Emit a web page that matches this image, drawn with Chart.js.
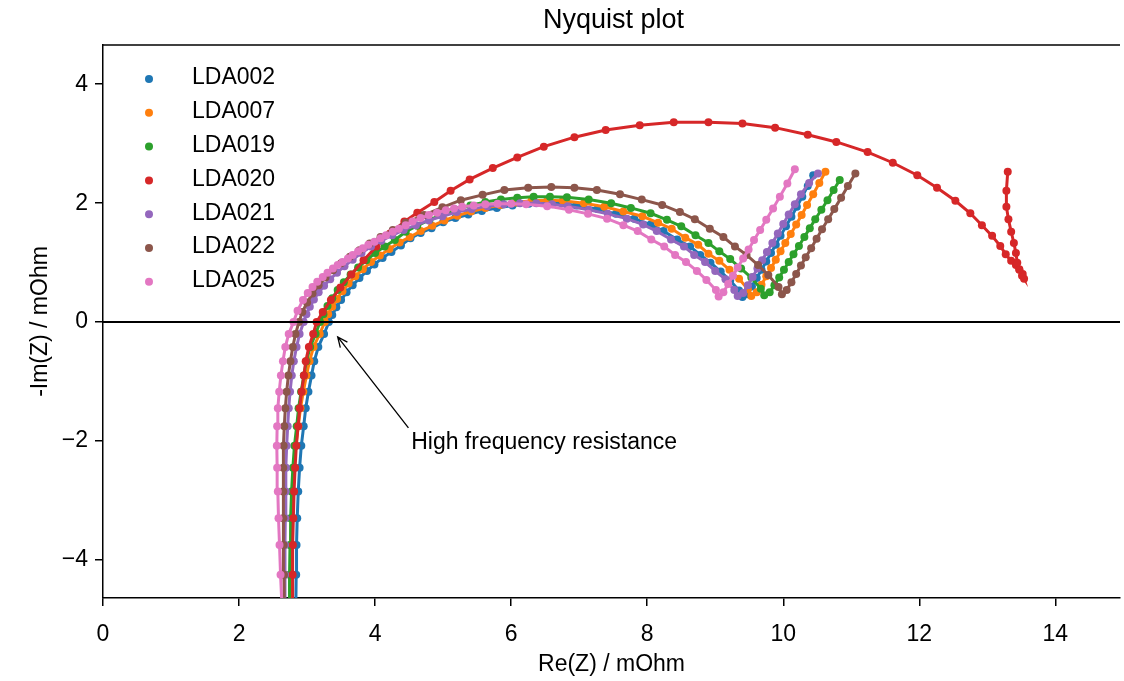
<!DOCTYPE html>
<html>
<head>
<meta charset="utf-8">
<script src="https://cdn.jsdelivr.net/npm/chart.js@4.4.1/dist/chart.umd.min.js"></script>
<style>
  body { margin: 0; background: #fff; }
</style>
</head>
<body>
<canvas id="nyquist" width="1124" height="681"></canvas>
<script>
// series, Re(Z) and -Im(Z) in mOhm
const seriesNames = ['LDA002', 'LDA007', 'LDA019', 'LDA020', 'LDA021', 'LDA022', 'LDA025'];
const seriesColors = ['#1f77b4', '#ff7f0e', '#2ca02c', '#d62728', '#9467bd', '#8c564b', '#e377c2'];
const xTicks = [0, 2, 4, 6, 8, 10, 12, 14];
const yTicks = [-4, -2, 0, 2, 4];

const re_LDA002 = [2.83, 2.835, 2.84, 2.845, 2.855, 2.87, 2.89, 2.915, 2.95, 2.98, 3.02, 3.065, 3.105, 3.165, 3.25, 3.32,
  3.37, 3.43, 3.5, 3.58, 3.67, 3.77, 3.88, 3.99, 4.11, 4.24, 4.38, 4.52, 4.67, 4.83, 5.0, 5.18, 5.37, 5.57, 5.79, 6.02, 6.26, 6.5,
  6.74, 6.96, 7.27, 7.54, 7.81, 8.05, 8.24, 8.44, 8.63, 8.78, 8.93, 9.08, 9.22, 9.35, 9.4,
  9.47, 9.54, 9.61, 9.68, 9.75, 9.82, 9.89, 9.96, 10.04, 10.12, 10.2, 10.28, 10.36, 10.44];
const im_LDA002 = [-5.3, -4.75, -4.25, -3.75, -3.3, -2.85, -2.45, -2.08, -1.75, -1.45, -1.17, -0.9, -0.66, -0.42, -0.2, 0,
  0.12, 0.25, 0.37, 0.5, 0.62, 0.74, 0.86, 0.97, 1.08, 1.18, 1.29, 1.41, 1.5, 1.58, 1.68, 1.75, 1.81, 1.87, 1.92, 1.96, 1.99, 2.01,
  2.0, 1.96, 1.9, 1.82, 1.74, 1.64, 1.53, 1.39, 1.27, 1.13, 1.0, 0.85, 0.7, 0.53, 0.42,
  0.47, 0.6, 0.74, 0.88, 1.02, 1.16, 1.3, 1.45, 1.61, 1.77, 1.94, 2.11, 2.29, 2.47];

const re_LDA007 = [2.745, 2.75, 2.755, 2.761, 2.771, 2.787, 2.808, 2.834, 2.871, 2.903, 2.945, 2.99, 3.035, 3.095, 3.185, 3.26,
  3.31, 3.37, 3.44, 3.52, 3.61, 3.71, 3.82, 3.94, 4.07, 4.21, 4.36, 4.51, 4.67, 4.84, 5.02, 5.21, 5.41, 5.62, 5.84, 6.07, 6.3, 6.54,
  6.76, 7.07, 7.37, 7.65, 7.93, 8.16, 8.36, 8.56, 8.75, 8.9, 9.06, 9.21, 9.35, 9.48, 9.53,
  9.61, 9.68, 9.75, 9.82, 9.89, 9.96, 10.03, 10.11, 10.19, 10.27, 10.35, 10.44, 10.53, 10.62];
const im_LDA007 = [-5.3, -4.75, -4.25, -3.75, -3.3, -2.85, -2.45, -2.08, -1.75, -1.45, -1.17, -0.9, -0.66, -0.42, -0.2, 0,
  0.13, 0.26, 0.39, 0.52, 0.65, 0.77, 0.89, 1.01, 1.12, 1.23, 1.34, 1.43, 1.53, 1.62, 1.71, 1.79, 1.86, 1.92, 1.97, 2.01, 2.04, 2.05,
  2.04, 2.0, 1.94, 1.86, 1.78, 1.67, 1.57, 1.42, 1.3, 1.15, 1.03, 0.88, 0.73, 0.55, 0.44,
  0.5, 0.63, 0.77, 0.91, 1.05, 1.19, 1.33, 1.48, 1.64, 1.8, 1.97, 2.15, 2.34, 2.53];

const re_LDA019 = [2.735, 2.74, 2.744, 2.749, 2.758, 2.772, 2.791, 2.814, 2.847, 2.875, 2.912, 2.953, 2.99, 3.045, 3.125, 3.19,
  3.24, 3.3, 3.37, 3.45, 3.54, 3.64, 3.75, 3.87, 4.0, 4.14, 4.29, 4.45, 4.62, 4.8, 4.99, 5.19, 5.4, 5.62, 5.85, 6.09, 6.33, 6.57,
  6.82, 7.14, 7.47, 7.76, 8.05, 8.29, 8.5, 8.71, 8.9, 9.06, 9.22, 9.38, 9.53, 9.67, 9.72,
  9.8, 9.87, 9.94, 10.01, 10.08, 10.15, 10.23, 10.31, 10.39, 10.47, 10.56, 10.65, 10.74, 10.83];
const im_LDA019 = [-5.3, -4.75, -4.25, -3.75, -3.3, -2.85, -2.45, -2.08, -1.75, -1.45, -1.17, -0.9, -0.66, -0.42, -0.2, 0,
  0.13, 0.27, 0.4, 0.54, 0.67, 0.8, 0.92, 1.04, 1.16, 1.27, 1.38, 1.52, 1.62, 1.72, 1.81, 1.89, 1.96, 2.02, 2.06, 2.09, 2.11, 2.11,
  2.1, 2.06, 2.0, 1.92, 1.83, 1.72, 1.61, 1.46, 1.33, 1.19, 1.06, 0.9, 0.75, 0.56, 0.45,
  0.5, 0.62, 0.75, 0.88, 1.01, 1.14, 1.28, 1.43, 1.58, 1.73, 1.89, 2.05, 2.22, 2.39];

const re_LDA020 = [2.78, 2.784, 2.787, 2.791, 2.798, 2.809, 2.824, 2.842, 2.868, 2.89, 2.92, 2.953, 2.98, 3.026, 3.09, 3.14,
  3.23, 3.35, 3.49, 3.65, 3.83, 4.02, 4.22, 4.43, 4.62, 4.87, 5.11, 5.39, 5.73, 6.09, 6.48, 6.93, 7.39, 7.89, 8.39, 8.9,
  9.4, 9.88, 10.36, 10.78, 11.24, 11.61, 11.97, 12.26, 12.53, 12.75, 12.92, 13.07, 13.19, 13.27, 13.35, 13.42, 13.47, 13.52, 13.54,
  13.51, 13.47, 13.44, 13.42, 13.39, 13.35, 13.31, 13.28, 13.28, 13.3];
const im_LDA020 = [-5.3, -4.75, -4.25, -3.75, -3.3, -2.85, -2.45, -2.08, -1.75, -1.45, -1.17, -0.9, -0.66, -0.42, -0.2, 0,
  0.17, 0.37, 0.58, 0.8, 1.04, 1.27, 1.49, 1.69, 1.84, 2.02, 2.21, 2.4, 2.59, 2.77, 2.95, 3.11, 3.23, 3.31, 3.36, 3.36,
  3.34, 3.27, 3.15, 3.03, 2.86, 2.68, 2.47, 2.26, 2.04, 1.83, 1.63, 1.45, 1.28, 1.14, 1.03, 0.96, 0.89, 0.81, 0.73,
  0.78, 0.88, 1.0, 1.16, 1.33, 1.52, 1.73, 1.94, 2.21, 2.53];

const re_LDA021 = [2.675, 2.675, 2.675, 2.675, 2.68, 2.685, 2.69, 2.7, 2.715, 2.73, 2.75, 2.775, 2.805, 2.845, 2.89, 2.95,
  2.99, 3.04, 3.1, 3.17, 3.25, 3.34, 3.44, 3.55, 3.67, 3.8, 3.94, 4.09, 4.25, 4.42, 4.6, 4.79, 4.99, 5.2, 5.42, 5.65, 5.89, 6.13, 6.37,
  6.6, 6.83, 7.14, 7.42, 7.7, 7.94, 8.14, 8.35, 8.54, 8.69, 8.85, 9.0, 9.15, 9.28, 9.33,
  9.41, 9.48, 9.55, 9.62, 9.69, 9.76, 9.84, 9.92, 10.0, 10.08, 10.17, 10.26, 10.38, 10.51];
const im_LDA021 = [-5.3, -4.75, -4.25, -3.75, -3.3, -2.85, -2.45, -2.08, -1.75, -1.45, -1.17, -0.9, -0.66, -0.42, -0.2, 0,
  0.13, 0.26, 0.38, 0.5, 0.61, 0.72, 0.83, 0.94, 1.05, 1.16, 1.27, 1.37, 1.46, 1.55, 1.63, 1.71, 1.78, 1.85, 1.9, 1.95, 1.98, 2.0, 2.0,
  1.98, 1.95, 1.89, 1.82, 1.74, 1.64, 1.53, 1.39, 1.27, 1.13, 1.01, 0.86, 0.72, 0.54, 0.44,
  0.49, 0.62, 0.76, 0.9, 1.04, 1.18, 1.33, 1.49, 1.65, 1.81, 1.98, 2.15, 2.34, 2.5];

const re_LDA022 = [2.67, 2.665, 2.66, 2.655, 2.65, 2.65, 2.65, 2.655, 2.665, 2.68, 2.7, 2.725, 2.755, 2.79, 2.83, 2.88,
  2.93, 3.0, 3.08, 3.17, 3.27, 3.38, 3.5, 3.63, 3.77, 3.92, 4.08, 4.26, 4.45, 4.72, 4.99, 5.26, 5.58, 5.9, 6.25, 6.59,
  6.93, 7.26, 7.6, 7.92, 8.22, 8.48, 8.7, 8.92, 9.12, 9.29, 9.46, 9.63, 9.78, 9.93, 9.98,
  10.05, 10.12, 10.19, 10.26, 10.33, 10.41, 10.49, 10.57, 10.66, 10.75, 10.85, 10.95, 11.06];
const im_LDA022 = [-5.3, -4.75, -4.25, -3.75, -3.3, -2.85, -2.45, -2.08, -1.75, -1.45, -1.17, -0.9, -0.66, -0.42, -0.2, 0,
  0.17, 0.33, 0.48, 0.62, 0.75, 0.87, 0.99, 1.1, 1.21, 1.32, 1.43, 1.55, 1.67, 1.8, 1.93, 2.05, 2.14, 2.22, 2.26, 2.27,
  2.26, 2.22, 2.15, 2.06, 1.97, 1.85, 1.73, 1.57, 1.43, 1.27, 1.13, 0.96, 0.79, 0.59, 0.47,
  0.54, 0.67, 0.81, 0.95, 1.09, 1.24, 1.4, 1.56, 1.73, 1.9, 2.09, 2.29, 2.5];

const re_LDA025 = [2.64, 2.63, 2.61, 2.595, 2.58, 2.57, 2.56, 2.555, 2.56, 2.57, 2.59, 2.615, 2.645, 2.68, 2.73, 2.8,
  2.86, 2.94, 3.01, 3.08, 3.15, 3.23, 3.3, 3.38, 3.45, 3.52, 3.6, 3.67, 3.75, 3.82, 3.9, 3.99, 4.08, 4.16, 4.26, 4.35,
  4.45, 4.55, 4.67, 4.79, 4.91, 5.04, 5.16, 5.28, 5.45, 5.62, 5.8, 6.0, 6.22,
  6.53, 6.85, 7.13, 7.41, 7.65, 7.86, 8.06, 8.25, 8.41, 8.57, 8.73, 8.87, 9.01, 9.05,
  9.12, 9.19, 9.26, 9.33, 9.41, 9.49, 9.57, 9.66, 9.75, 9.85, 9.95, 10.06, 10.17];
const im_LDA025 = [-5.3, -4.75, -4.25, -3.75, -3.3, -2.85, -2.45, -2.08, -1.75, -1.45, -1.17, -0.9, -0.66, -0.42, -0.2, 0,
  0.19, 0.37, 0.49, 0.59, 0.68, 0.76, 0.83, 0.9, 0.96, 1.01, 1.07, 1.13, 1.19, 1.24, 1.3, 1.35, 1.41, 1.46, 1.52, 1.57,
  1.63, 1.69, 1.75, 1.8, 1.84, 1.88, 1.91, 1.94, 1.96, 1.98, 1.99, 1.99, 1.98,
  1.95, 1.89, 1.82, 1.74, 1.63, 1.53, 1.39, 1.27, 1.13, 1.01, 0.86, 0.71, 0.54, 0.43,
  0.5, 0.64, 0.78, 0.92, 1.07, 1.22, 1.38, 1.55, 1.72, 1.91, 2.11, 2.33, 2.57];

const reSeries = [re_LDA002, re_LDA007, re_LDA019, re_LDA020, re_LDA021, re_LDA022, re_LDA025];
const imSeries = [im_LDA002, im_LDA007, im_LDA019, im_LDA020, im_LDA021, im_LDA022, im_LDA025];

// annotation (data coordinates)
const chartTitle = 'Nyquist plot';
const hfrLabel = 'High frequency resistance';
const hfrLabelAt = [4.53, -2.02];
const hfrArrowTail = [4.49, -1.78];
const hfrArrowTip = [3.45, -0.25];

const FONT = "'Liberation Sans', Arial, sans-serif";
Chart.defaults.font.family = FONT;
Chart.defaults.font.size = 23;
Chart.defaults.color = '#000';

const datasets = seriesNames.map((name, i) => ({
    label: name,
    data: reSeries[i].map((x, k) => ({ x: x, y: imSeries[i][k] })),
    borderColor: seriesColors[i],
    backgroundColor: seriesColors[i],
    pointBackgroundColor: seriesColors[i],
    pointBorderWidth: 0,
    pointRadius: 4,
    pointHoverRadius: 4,
    borderWidth: 3,
    tension: 0,
    fill: false,
    clip: 0,
    order: seriesNames.length - i // later series on top, as in the original
}));

// title, zero line, top frame, legend and the arrow note
const extras = {
    id: 'extras',
    afterDatasetsDraw(chart) {
        const ctx = chart.ctx;
        const area = chart.chartArea;
        const xs = chart.scales.x;
        const ys = chart.scales.y;
        ctx.save();
        ctx.strokeStyle = '#000';
        // horizontal line at -Im(Z) = 0
        ctx.lineWidth = 2;
        const y0 = ys.getPixelForValue(0);
        ctx.beginPath();
        ctx.moveTo(area.left, y0);
        ctx.lineTo(area.right, y0);
        ctx.stroke();
        // top spine
        ctx.lineWidth = 1.5;
        ctx.beginPath();
        ctx.moveTo(area.left, area.top);
        ctx.lineTo(area.right, area.top);
        ctx.stroke();

        // title centred over the axes
        ctx.fillStyle = '#000';
        ctx.font = '27px ' + FONT;
        ctx.textAlign = 'center';
        ctx.textBaseline = 'middle';
        ctx.fillText(chartTitle, (area.left + area.right) / 2 + 2, area.top - 24);

        // arrow + label
        const tx = xs.getPixelForValue(hfrArrowTail[0]), ty = ys.getPixelForValue(hfrArrowTail[1]);
        const hx = xs.getPixelForValue(hfrArrowTip[0]), hy = ys.getPixelForValue(hfrArrowTip[1]);
        ctx.lineWidth = 1.3;
        ctx.beginPath();
        ctx.moveTo(tx, ty);
        ctx.lineTo(hx, hy);
        const ang = Math.atan2(hy - ty, hx - tx);
        const len = 11, spread = 0.42;
        ctx.moveTo(hx - len * Math.cos(ang - spread), hy - len * Math.sin(ang - spread));
        ctx.lineTo(hx, hy);
        ctx.lineTo(hx - len * Math.cos(ang + spread), hy - len * Math.sin(ang + spread));
        ctx.stroke();
        ctx.font = '23px ' + FONT;
        ctx.textAlign = 'left';
        ctx.fillText(hfrLabel, xs.getPixelForValue(hfrLabelAt[0]), ys.getPixelForValue(hfrLabelAt[1]));

        // legend in the upper left corner, no frame
        chart.data.datasets.forEach((ds, i) => {
            const ly = area.top + 33 + i * 33.8;
            ctx.fillStyle = ds.borderColor;
            ctx.beginPath();
            ctx.arc(area.left + 46, ly + 1, 4, 0, Math.PI * 2);
            ctx.fill();
            ctx.fillStyle = '#000';
            ctx.fillText(ds.label, area.left + 89, ly);
        });
        ctx.restore();
    }
};

new Chart(document.getElementById('nyquist'), {
    type: 'line',
    data: { datasets: datasets },
    options: {
        responsive: false,
        animation: false,
        devicePixelRatio: 1,
        layout: { padding: { top: 45, right: 0, bottom: 0, left: 0 } },
        plugins: {
            legend: { display: false },
            tooltip: { enabled: false },
            title: { display: false }
        },
        scales: {
            x: {
                type: 'linear',
                min: 0,
                max: 14.95,
                afterBuildTicks: s => { s.ticks = xTicks.map(v => ({ value: v })); },
                afterFit: s => { s.height = 83; },
                ticks: { padding: 15, color: '#000' },
                grid: { drawOnChartArea: false, drawTicks: true, tickLength: 8, color: '#000', lineWidth: 1.5 },
                border: { display: true, color: '#000', width: 1.5 },
                title: { display: true, text: 'Re(Z) / mOhm', color: '#000', padding: { top: 4, bottom: 3 } }
            },
            y: {
                type: 'linear',
                min: -4.64,
                max: 4.66,
                afterBuildTicks: s => { s.ticks = yTicks.map(v => ({ value: v })); },
                afterFit: s => { s.width = 103; },
                ticks: {
                    padding: 7,
                    color: '#000',
                    callback: v => (v < 0 ? '\u2212' + Math.abs(v) : String(v))
                },
                grid: { drawOnChartArea: false, drawTicks: true, tickLength: 8, color: '#000', lineWidth: 1.5 },
                border: { display: true, color: '#000', width: 1.5 },
                title: { display: true, text: '-Im(Z) / mOhm', color: '#000', padding: { top: 27, bottom: 0 } }
            }
        }
    },
    plugins: [extras]
});
</script>
</body>
</html>
